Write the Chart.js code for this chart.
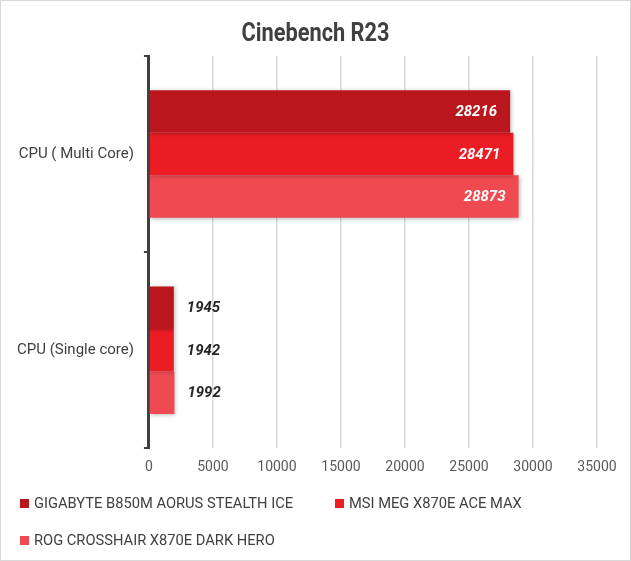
<!DOCTYPE html>
<html>
<head>
<meta charset="utf-8">
<script src="https://cdn.jsdelivr.net/npm/chart.js@4"></script>
<style>
  body { margin: 0; background: #fff; }
  #wrap {
    position: relative;
    width: 631px;
    height: 561px;
    box-sizing: border-box;
    border: 1px solid #d9d9d9;
    background: #fff;
    overflow: hidden;
  }
  #title {
    position: absolute;
    left: 0;
    top: 15px;
    width: 629px;
    text-align: center;
    font-family: Roboto, sans-serif;
    font-weight: bold;
    font-size: 25px;
    line-height: 34px;
    color: #404040;
    transform: scaleX(0.87);
  }
  #chartBox { position: absolute; left: 0; top: 0; width: 629px; height: 490px; }
  #legend {
    position: absolute;
    left: 19px;
    top: 484px;
    width: 640px;
    display: flex;
    flex-wrap: wrap;
    font-family: Roboto, sans-serif;
    font-size: 14.7px;
    color: #404040;
  }
  .item { width: 315px; height: 37px; line-height: 37px; white-space: nowrap; }
  .swatch { display: inline-block; width: 9px; height: 9px; margin-right: 5px; }
</style>
</head>
<body>
<div id="wrap">
  <div id="chartBox"><canvas id="chart"></canvas></div>
  <div id="title">Cinebench R23</div>
  <div id="legend"></div>
</div>
<script>
// Data
const categories = ["CPU ( Multi Core)", "CPU (Single core)"];
const boardNames = ["GIGABYTE B850M AORUS STEALTH ICE", "MSI MEG X870E ACE MAX", "ROG CROSSHAIR X870E DARK HERO"];
const gigabyteScores = [28216, 1945];
const msiScores = [28471, 1942];
const rogScores = [28873, 1992];
const boardColors = ["#BA161D", "#EC1C24", "#EF4A51"];

// Soft shadow under the bars
const barShadow = {
  id: 'barShadow',
  beforeDatasetsDraw: (chart) => {
    const ctx = chart.ctx;
    ctx.save();
    ctx.shadowColor = 'rgba(0, 0, 0, 0.28)';
    ctx.shadowBlur = 4;
    ctx.shadowOffsetX = 1;
    ctx.shadowOffsetY = 1;
  },
  afterDatasetsDraw: (chart) => {
    chart.ctx.restore();
  }
};

// Value labels (inside for multi core, outside for single core)
const valueLabels = {
  id: 'valueLabels',
  afterDatasetsDraw: (chart) => {
    const ctx = chart.ctx;
    ctx.save();
    ctx.font = 'italic bold 15px Roboto';
    ctx.textBaseline = 'middle';
    chart.data.datasets.forEach((ds, i) => {
      chart.getDatasetMeta(i).data.forEach((bar, index) => {
        const inside = index === 0;
        ctx.fillStyle = inside ? '#ffffff' : '#262626';
        ctx.textAlign = inside ? 'right' : 'left';
        ctx.fillText(ds.data[index], inside ? bar.x - 13 : bar.x + 13, bar.y + 1);
      });
    });
    ctx.restore();
  }
};

const chart = new Chart(document.querySelector('#chart'), {
  type: 'bar',
  data: {
    labels: categories,
    datasets: [gigabyteScores, msiScores, rogScores].map((scores, i) => ({
      label: boardNames[i],
      data: scores,
      backgroundColor: boardColors[i],
      borderWidth: 0,
      categoryPercentage: 0.65,
      barPercentage: 1.0,
    }))
  },
  options: {
    indexAxis: 'y',
    responsive: true,
    maintainAspectRatio: false,
    animation: false,
    layout: { padding: { top: 55, left: 6, right: 33, bottom: 4 } },
    plugins: {
      legend: { display: false },
      tooltip: { enabled: false },
      title: { display: false }
    },
    scales: {
      x: {
        min: 0,
        max: 35000,
        ticks: {
          stepSize: 5000,
          color: '#595959',
          font: { family: 'Roboto', size: 14 },
          padding: 11,
          callback: (value) => String(value)
        },
        grid: { color: '#d9d9d9', lineWidth: 1.5, drawTicks: false },
        border: { display: false }
      },
      y: {
        ticks: {
          color: '#404040',
          font: { family: 'Roboto', size: 15 },
          padding: 10
        },
        grid: {
          offset: true,
          drawOnChartArea: false,
          drawTicks: true,
          tickLength: 5,
          color: '#404040',
          lineWidth: 2
        },
        border: { color: '#404040', width: 3 }
      }
    }
  },
  plugins: [barShadow, valueLabels]
});

// Legend
const legend = document.querySelector('#legend');
chart.data.datasets.forEach(ds => {
  const item = document.createElement('div');
  item.className = 'item';
  item.innerHTML = `<span class="swatch" style="background:${ds.backgroundColor}"></span>${ds.label}`;
  legend.appendChild(item);
});
</script>
</body>
</html>
